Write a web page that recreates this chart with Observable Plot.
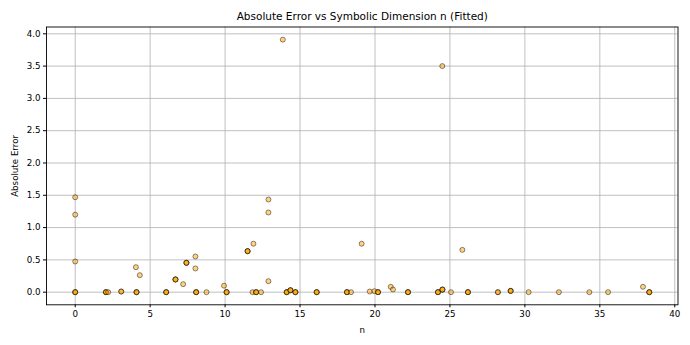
<!DOCTYPE html>
<html><head><meta charset="utf-8">
<script src="https://cdn.jsdelivr.net/npm/d3@7"></script>
<script src="https://cdn.jsdelivr.net/npm/@observablehq/plot@0.6"></script>
<style>body{margin:0;background:#fff} svg{font-family:"DejaVu Sans",sans-serif}</style>
</head><body><div id="chart"></div>
<script>
const titleText = "Absolute Error vs Symbolic Dimension n (Fitted)";
const xLabel = "n";
const yLabel = "Absolute Error";
const xTicks = [0, 5, 10, 15, 20, 25, 30, 35, 40];
const yTicks = [0, 0.5, 1, 1.5, 2, 2.5, 3, 3.5, 4];

const nValues = [
  0, 0, 0, 0, 0, 0,
  2.05, 2.05, 2.05, 2.2,
  3.07, 3.07,
  4.05, 4.31, 4.09, 4.09, 4.09,
  6.07, 6.07, 6.07,
  6.69, 6.69, 6.69, 7.2, 7.42, 7.42, 7.42, 8.02, 8.02, 8.07, 8.07, 8.07, 8.76,
  9.93, 10.1, 10.1, 10.1,
  11.5, 11.5, 11.5, 11.89, 11.83, 12.07, 12.07, 12.07, 12.4,
  12.89, 12.89, 12.89,
  13.85,
  14.11, 14.11, 14.11, 14.36, 14.36, 14.36, 14.69, 14.69, 14.69,
  16.11, 16.11, 16.11,
  18.13, 18.13, 18.13, 18.4,
  19.11,
  19.65, 19.96, 20.2, 20.2, 20.2,
  21.05, 21.2,
  22.2, 22.2, 22.2,
  24.2, 24.2, 24.2, 24.5, 24.5, 24.5, 24.49,
  25.07, 25.83, 26.2, 26.2, 26.2,
  28.2, 28.2, 29.05, 29.05, 29.05,
  30.25, 32.27, 34.3, 35.55,
  37.88, 38.3, 38.3, 38.3
];
const errValues = [
  1.47, 1.20, 0.475, 0, 0, 0,
  0, 0, 0, 0,
  0.01, 0.01,
  0.387, 0.263, 0, 0, 0,
  0, 0, 0,
  0.197, 0.197, 0.197, 0.124, 0.455, 0.455, 0.455, 0.553, 0.367, 0, 0, 0, 0,
  0.10, 0, 0, 0,
  0.635, 0.635, 0.635, 0.75, 0, 0, 0, 0, 0,
  1.435, 1.234, 0.17,
  3.91,
  0, 0, 0, 0.03, 0.03, 0.03, 0, 0, 0,
  0, 0, 0,
  0, 0, 0, 0,
  0.75,
  0.01, 0.015, 0, 0, 0,
  0.083, 0.042,
  0, 0, 0,
  0, 0, 0, 0.04, 0.04, 0.04, 3.50,
  0, 0.655, 0, 0, 0,
  0, 0, 0.02, 0.02, 0.02,
  0, 0, 0, 0,
  0.083, 0, 0, 0
];

const data = nValues.map((n, i) => ({n, err: errValues[i]}));

const chart = Plot.plot({
  width: 690, height: 345,
  marginLeft: 46, marginRight: 12.5, marginTop: 26.5, marginBottom: 40.7,
  style: {fontFamily: "DejaVu Sans", fontSize: "8.7px", background: "#fff", color: "#000"},
  x: {domain: [-1.915, 40.215], label: null},
  y: {domain: [-0.1955, 4.1055], label: null},
  marks: [
    Plot.gridX(xTicks, {stroke: "#b0b0b0", strokeOpacity: 1, strokeWidth: 0.8}),
    Plot.gridY(yTicks, {stroke: "#b0b0b0", strokeOpacity: 1, strokeWidth: 0.8}),
    Plot.axisX(xTicks, {tickSize: 3, tickPadding: 3, tickFormat: d => String(d), fontSize: 8.7, label: null}),
    Plot.axisY(yTicks, {tickSize: 3, tickPadding: 3, tickFormat: d3.format(".1f"), fontSize: 8.7, label: null}),
    Plot.dot(data, {x: "n", y: "err", r: 2.5, fill: "orange", fillOpacity: 0.5, stroke: "black", strokeOpacity: 0.5, strokeWidth: 0.9}),
    Plot.frame({stroke: "black", strokeWidth: 0.9}),
    Plot.text([titleText], {frameAnchor: "top", dy: -10.5, text: d => d, fontSize: 10.5, lineAnchor: "middle", textAnchor: "middle", fill: "#000"}),
    Plot.text([xLabel], {frameAnchor: "bottom", dy: 25.5, text: d => d, fontSize: 8.7, lineAnchor: "middle", textAnchor: "middle", fill: "#000"}),
    Plot.text([yLabel], {frameAnchor: "left", dx: -31, rotate: -90, text: d => d, fontSize: 8.7, lineAnchor: "middle", textAnchor: "middle", fill: "#000"})
  ]
});
document.getElementById("chart").appendChild(chart);
</script>
</body></html>
